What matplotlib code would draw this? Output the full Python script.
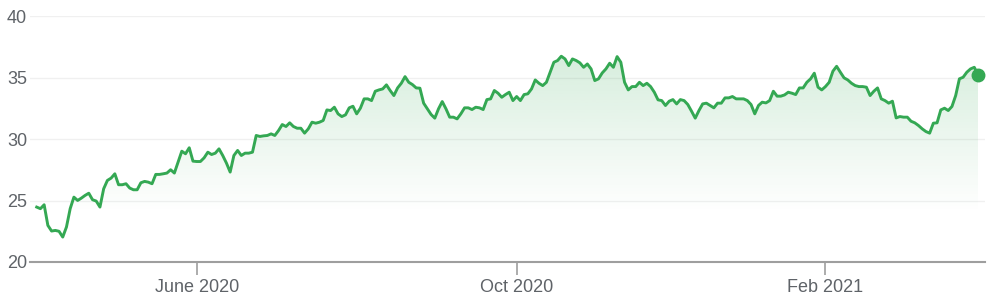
import numpy as np
import pandas as pd
import matplotlib
matplotlib.use("Agg")
import matplotlib.pyplot as plt
from matplotlib.patches import Polygon

# Daily closing prices (one value per trading day)
prices = [
    24.47, 24.34, 24.66, 22.98, 22.52, 22.57, 22.50, 22.03, 22.85, 24.34,
    25.28, 25.01, 25.20, 25.42, 25.60, 25.07, 24.96, 24.47, 25.96, 26.64,
    26.83, 27.18, 26.29, 26.29, 26.37, 26.02, 25.88, 25.88, 26.45, 26.56,
    26.50, 26.37, 27.13, 27.13, 27.18, 27.24, 27.51, 27.24, 28.13, 29.02,
    28.81, 29.30, 28.21, 28.18, 28.18, 28.48, 28.94, 28.75, 28.86, 29.21,
    28.67, 28.05, 27.32, 28.67, 29.08, 28.67, 28.86, 28.86, 28.94, 30.30,
    30.22, 30.27, 30.30, 30.43, 30.30, 30.70, 31.19, 31.03, 31.33, 31.03,
    30.89, 30.89, 30.49, 30.84, 31.38, 31.30, 31.38, 31.52, 32.38, 32.33,
    32.60, 32.06, 31.84,
    31.98, 32.55, 32.68, 32.06, 32.52, 33.28, 33.28, 33.14, 33.90, 34.01,
    34.09, 34.42, 33.96, 33.55, 34.17, 34.55, 35.09, 34.63, 34.44, 34.17,
    34.15, 32.93, 32.47, 32.01, 31.71, 32.47, 33.06, 32.47, 31.79, 31.79,
    31.65, 32.06, 32.55, 32.55, 32.41, 32.60, 32.55, 32.41, 33.22, 33.28,
    33.96, 33.74, 33.41, 33.63, 33.82, 33.14, 33.47, 33.14, 33.63, 33.69,
    34.09, 34.82, 34.55, 34.36, 34.63, 35.45, 36.26, 36.40, 36.75, 36.53,
    35.99, 36.53, 36.40, 36.21, 35.85, 36.12, 35.72, 34.77, 34.91, 35.39,
    35.72, 36.18, 35.85, 36.72, 36.26, 34.63, 34.01, 34.28, 34.28, 34.63,
    34.36, 34.55, 34.28, 33.82, 33.20, 33.14,
    32.74, 33.09, 33.22, 32.87, 33.22, 33.14, 32.82, 32.28, 31.71, 32.33,
    32.87, 32.93, 32.74, 32.55, 32.93, 32.93, 33.36, 33.36, 33.47, 33.28,
    33.28, 33.28, 33.14, 32.82, 32.06, 32.74, 33.01, 32.95, 33.14, 33.90,
    33.50, 33.50, 33.60, 33.82, 33.74, 33.63, 34.17, 34.17, 34.63, 34.91,
    35.37, 34.23, 34.01, 34.28, 34.63, 35.53, 35.93, 35.45, 34.99, 34.82,
    34.55, 34.36, 34.28, 34.28, 34.23, 33.55, 33.90, 34.17, 33.28, 33.14,
    32.93, 33.09, 31.73, 31.84, 31.79, 31.79, 31.46, 31.33, 31.11, 30.84,
    30.62, 30.49, 31.30, 31.33, 32.38, 32.52, 32.33, 32.66, 33.55, 34.91,
    35.04, 35.45, 35.72, 35.85, 35.26,
]
start_date = "2020-03-30"
holidays = ["2020-04-10", "2020-05-25", "2020-07-03", "2020-09-07", "2020-11-26",
            "2020-12-25", "2021-01-01", "2021-01-18", "2021-02-15"]
y_ticks = [20, 25, 30, 35, 40]
x_tick_months = ["2020-06", "2020-10", "2021-02"]
x_tick_labels = ["June 2020", "Oct 2020", "Feb 2021"]

# Trading-day axis
dates = pd.date_range(start_date, periods=len(prices),
                      freq=pd.offsets.CustomBusinessDay(holidays=holidays))
months = dates.strftime("%Y-%m")
x = np.arange(len(prices))
tick_pos = [int(np.argmax(months == m)) for m in x_tick_months]

green = "#34a853"
text_gray = "#5f6368"

plt.rcParams["font.family"] = ["Liberation Sans", "DejaVu Sans"]
fig = plt.figure(figsize=(9.93, 2.99), dpi=100)
ax = fig.add_axes([30 / 993, 37 / 299, 955 / 993, 246.3 / 299])

n = len(prices)
ppi = 941.3 / (n - 1)
ax.set_xlim(-6.7 / ppi, n - 1 + 7 / ppi)
ax.set_ylim(20, 40.05)

# Gradient fill under the line
rgb = matplotlib.colors.to_rgb(green)
ys = np.linspace(20, 37, 256)
alpha = 0.2 * np.clip((ys - 24) / (37 - 24), 0, 1)
grad = np.zeros((256, 1, 4))
grad[:, 0, :3] = rgb
grad[:, 0, 3] = alpha
verts = [(x[0], 20)] + list(zip(x, prices)) + [(x[-1], 20)]
poly = Polygon(verts, closed=True, facecolor="none", edgecolor="none")
ax.add_patch(poly)
img = ax.imshow(grad, extent=[x[0], x[-1], 20, 37], origin="lower",
                aspect="auto", zorder=1, interpolation="bilinear")
img.set_clip_path(poly)

ax.plot(x, prices, color=green, lw=2.1, zorder=3, solid_joinstyle="round")
ax.plot(x[-1], prices[-1], "o", ms=9, color=green, zorder=4)

# Axes styling
ax.set_yticks(y_ticks)
ax.yaxis.grid(True, color="#f0f0f0", lw=1)
ax.set_axisbelow(True)
for s in ["top", "right", "left"]:
    ax.spines[s].set_visible(False)
ax.spines["bottom"].set_color("#9e9e9e")
ax.spines["bottom"].set_linewidth(1.5)
ax.set_xticks(tick_pos)
ax.set_xticklabels(x_tick_labels)
ax.tick_params(axis="x", length=9, width=1.2, color="#9e9e9e", pad=3,
               labelsize=13, labelcolor=text_gray)
ax.tick_params(axis="y", length=0, pad=2, labelsize=13, labelcolor=text_gray)

fig.savefig("out.png", dpi=100)
